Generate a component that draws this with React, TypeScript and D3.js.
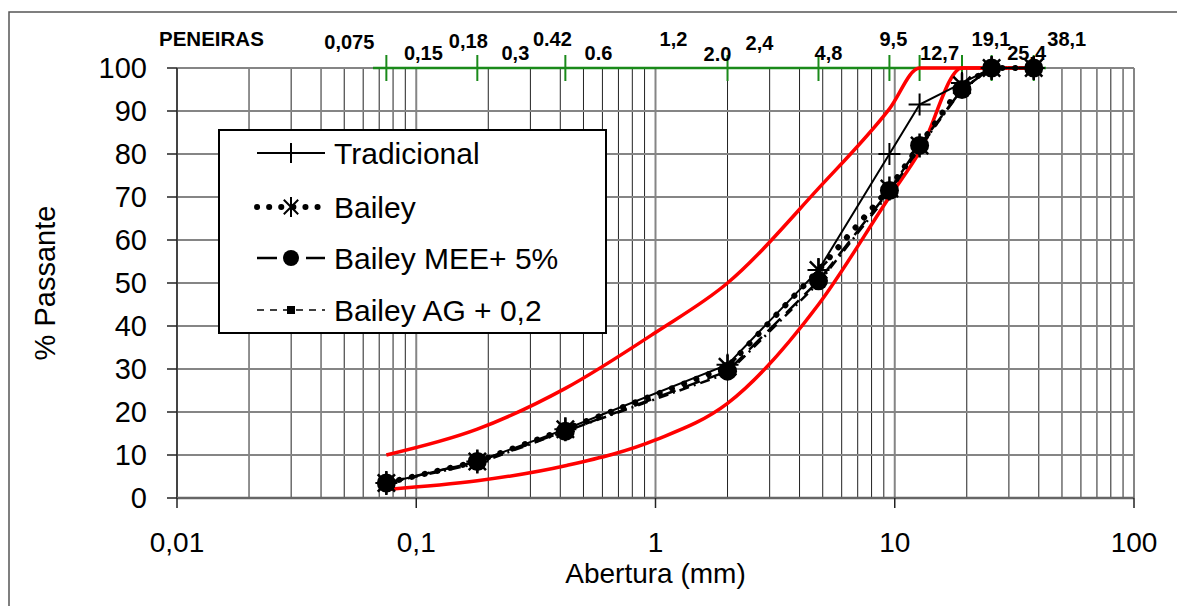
import React from "react";
import * as d3 from "d3";

// ---------- data ----------
const sieves = [0.075, 0.18, 0.42, 2.0, 4.8, 9.5, 12.7, 19.1, 25.4, 38.1];
const tradicional = [3.5, 8.5, 16, 31, 53, 80, 91.5, 96.5, 100, 100];
const bailey = [3.5, 8.5, 16, 30.5, 53, 72, 82, 96, 100, 100];
const baileyMEE = [3.5, 8.5, 15.5, 29.5, 50.5, 71.5, 82, 95, 100, 100];
const baileyAG = [3.5, 8, 15.5, 29, 50, 71, 81.5, 95, 100, 100];

const limitX = [0.075, 0.18, 0.42, 1, 2, 4.8, 9.5, 12.7, 19.1, 25.4, 38.1];
const upperLimit = [10, 16, 25.5, 38.5, 50, 72, 90.5, 100, 100, 100, 100];
const lowerLimit = [2, 4, 7.5, 13.5, 22, 45, 70, 80.5, 100, 100, 100];

const sieveLabelSizes = [0.075, 0.15, 0.18, 0.3, 0.42, 0.6, 1.2, 2.0, 2.4, 4.8, 9.5, 12.7, 19.1, 25.4, 38.1];
const sieveLabels = ["0,075", "0,15", "0,18", "0,3", "0.42", "0.6", "1,2", "2.0", "2,4", "4,8", "9,5", "12,7", "19,1", "25,4", "38,1"];
const sieveTicks = [0.075, 0.18, 0.42, 2.0, 4.8, 9.5, 12.7, 19.1, 25.4, 38.1];

const xTicks = [0.01, 0.1, 1, 10, 100];
const xTickLabels = ["0,01", "0,1", "1", "10", "100"];
const yTicks = [0, 10, 20, 30, 40, 50, 60, 70, 80, 90, 100];

const legendLabels = ["Tradicional", "Bailey", "Bailey MEE+ 5%", "Bailey AG + 0,2"];

// ---------- layout ----------
const W = 1177, H = 606;
const PL = 177, PR = 1134, PT = 68, PB = 498;
// label offsets (px) relative to sieve position, and vertical centres
const labelDx = [-37, -35, -9, -15, -13, -4, -1, -10, 13, 10, 4, 20, 29, 35, 33];
const labelCy = [42, 53, 41, 53, 39, 53, 39, 54, 43, 53, 39, 53, 39, 53, 39];

const FONT = "'Liberation Sans', Arial, Helvetica, sans-serif";

const x = d3.scaleLog().domain([0.01, 100]).range([PL, PR]);
const y = d3.scaleLinear().domain([0, 100]).range([PB, PT]);

function minorTicks(): number[] {
  const out: number[] = [];
  for (let e = -2; e < 2; e++) {
    for (let m = 2; m <= 9; m++) out.push(m * Math.pow(10, e));
  }
  return out;
}

const plusPath = (r: number) => `M${-r},0L${r},0M0,${-r}L0,${r}`;
const asteriskPath = (r: number) => {
  const d = r * 0.72;
  return `M${-d},${-d}L${d},${d}M${-d},${d}L${d},${-d}M0,${-r}L0,${r}`;
};

type Pt = [number, number];
const pts = (xs: number[], ys: number[]): Pt[] => xs.map((v, i) => [x(v), y(ys[i])]);

const lineLinear = d3.line<Pt>().x(d => d[0]).y(d => d[1]);
const lineSmooth = d3.line<Pt>().x(d => d[0]).y(d => d[1]).curve(d3.curveMonotoneX);

export default function App() {
  const minors = minorTicks();
  const tradPts = pts(sieves, tradicional);
  const baiPts = pts(sieves, bailey);
  const meePts = pts(sieves, baileyMEE);
  const agPts = pts(sieves, baileyAG);

  const legX0 = 219, legY0 = 130, legW = 387, legH = 203;
  const rowY = [153, 207, 258, 310];
  const symL = 257, symR = 325, symC = 291, textX = 334;

  return (
    <svg width={W} height={H} style={{ position: "absolute", left: 0, top: 0, background: "#fff" }} fontFamily={FONT}>
      <rect x={0} y={0} width={W} height={H} fill="#fff" />
      {/* outer frame */}
      <rect x={9} y={12} width={1300} height={700} fill="none" stroke="#555" strokeWidth={1.5} />

      {/* minor vertical grid */}
      {minors.map((v, i) => (
        <line key={"mv" + i} x1={x(v)} x2={x(v)} y1={PT} y2={PB} stroke="#222" strokeWidth={1} />
      ))}
      {/* horizontal grid */}
      {yTicks.map(t => (
        <line key={"hg" + t} x1={PL} x2={PR} y1={y(t)} y2={y(t)} stroke="#858585" strokeWidth={2} />
      ))}
      {/* major vertical grid */}
      {xTicks.map(t => (
        <line key={"vg" + t} x1={x(t)} x2={x(t)} y1={PT} y2={PB} stroke="#858585" strokeWidth={2} />
      ))}
      {/* axes */}
      <line x1={PL} x2={PL} y1={PT} y2={PB} stroke="#444" strokeWidth={2} />
      <line x1={PL} x2={PR} y1={PB} y2={PB} stroke="#666" strokeWidth={2.5} />
      {yTicks.map(t => (
        <line key={"yt" + t} x1={PL - 10} x2={PL} y1={y(t)} y2={y(t)} stroke="#222" strokeWidth={1.5} />
      ))}
      {xTicks.map(t => (
        <line key={"xt" + t} x1={x(t)} x2={x(t)} y1={PB} y2={PB + 10} stroke="#222" strokeWidth={1.5} />
      ))}
      {/* tick labels */}
      {yTicks.map(t => (
        <text key={"yl" + t} x={147} y={y(t)} dy="0.36em" textAnchor="end" fontSize={29} fill="#000">{t}</text>
      ))}
      {xTicks.map((t, i) => (
        <text key={"xl" + t} x={x(t)} y={552} textAnchor="middle" fontSize={28} fill="#000">{xTickLabels[i]}</text>
      ))}
      <text x={(PL + PR) / 2} y={583} textAnchor="middle" fontSize={28} fill="#000">Abertura (mm)</text>
      <text transform={`translate(55,${(PT + PB) / 2}) rotate(-90)`} textAnchor="middle" fontSize={29} fill="#000">% Passante</text>

      {/* sieve axis (top) */}
      <line x1={373} x2={1046} y1={PT} y2={PT} stroke="#1a8a1a" strokeWidth={2.5} />
      {sieveTicks.map(s => (
        <line key={"st" + s} x1={x(s)} x2={x(s)} y1={PT - 13} y2={PT + 13} stroke="#1a8a1a" strokeWidth={2} />
      ))}
      <text x={159} y={46} fontSize={20.5} fontWeight="bold" fill="#000">PENEIRAS</text>
      {sieveLabels.map((lab, i) => (
        <text key={"sl" + i} x={x(sieveLabelSizes[i]) + labelDx[i]} y={labelCy[i]} dy="0.36em" textAnchor="middle"
          fontSize={20} fontWeight="bold" fill="#000">{lab}</text>
      ))}

      {/* limit curves */}
      <path d={lineSmooth(pts(limitX, upperLimit)) || ""} fill="none" stroke="#ff0000" strokeWidth={3.5} />
      <path d={lineSmooth(pts(limitX, lowerLimit)) || ""} fill="none" stroke="#ff0000" strokeWidth={3.5} />

      {/* series */}
      <path d={lineLinear(tradPts) || ""} fill="none" stroke="#000" strokeWidth={2} />
      <path d={lineLinear(baiPts) || ""} fill="none" stroke="#000" strokeWidth={6} strokeDasharray="0.1 13" strokeLinecap="round" />
      <path d={lineLinear(meePts) || ""} fill="none" stroke="#000" strokeWidth={2.5} strokeDasharray="18 8" />
      <path d={lineLinear(agPts) || ""} fill="none" stroke="#000" strokeWidth={2.5} strokeDasharray="10 5 2 5" />

      {tradPts.map((p, i) => (
        <path key={"tm" + i} d={plusPath(11)} transform={`translate(${p[0]},${p[1]})`} stroke="#000" strokeWidth={2} fill="none" />
      ))}
      {baiPts.map((p, i) => (
        <path key={"bm" + i} d={asteriskPath(12)} transform={`translate(${p[0]},${p[1]})`} stroke="#000" strokeWidth={2.5} fill="none" />
      ))}
      {meePts.map((p, i) => (
        <circle key={"mm" + i} cx={p[0]} cy={p[1]} r={9.5} fill="#000" />
      ))}
      {agPts.map((p, i) => (
        <rect key={"am" + i} x={p[0] - 5} y={p[1] - 5} width={10} height={10} fill="#000" />
      ))}

      {/* legend */}
      <rect x={legX0} y={legY0} width={legW} height={legH} fill="#fff" stroke="#000" strokeWidth={2} />
      {/* Tradicional */}
      <line x1={symL} x2={symR} y1={rowY[0]} y2={rowY[0]} stroke="#000" strokeWidth={2} />
      <path d={plusPath(10)} transform={`translate(${symC},${rowY[0]})`} stroke="#000" strokeWidth={2} />
      {/* Bailey */}
      <line x1={symL} x2={symR} y1={rowY[1]} y2={rowY[1]} stroke="#000" strokeWidth={6} strokeDasharray="0.1 12" strokeLinecap="round" />
      <path d={asteriskPath(10)} transform={`translate(${symC},${rowY[1]})`} stroke="#000" strokeWidth={2} />
      {/* MEE */}
      <line x1={symL} x2={symL + 20} y1={rowY[2]} y2={rowY[2]} stroke="#000" strokeWidth={2.5} />
      <line x1={symR - 19} x2={symR} y1={rowY[2]} y2={rowY[2]} stroke="#000" strokeWidth={2.5} />
      <circle cx={symC} cy={rowY[2]} r={8} fill="#000" />
      {/* AG */}
      <line x1={symL} x2={symR} y1={rowY[3]} y2={rowY[3]} stroke="#000" strokeWidth={1.5} strokeDasharray="7 6" />
      <rect x={symC - 4} y={rowY[3] - 4} width={8} height={8} fill="#000" />
      {legendLabels.map((l, i) => (
        <text key={"lg" + i} x={textX} y={rowY[i]} dy="0.36em" fontSize={30} fill="#000">{l}</text>
      ))}
    </svg>
  );
}
